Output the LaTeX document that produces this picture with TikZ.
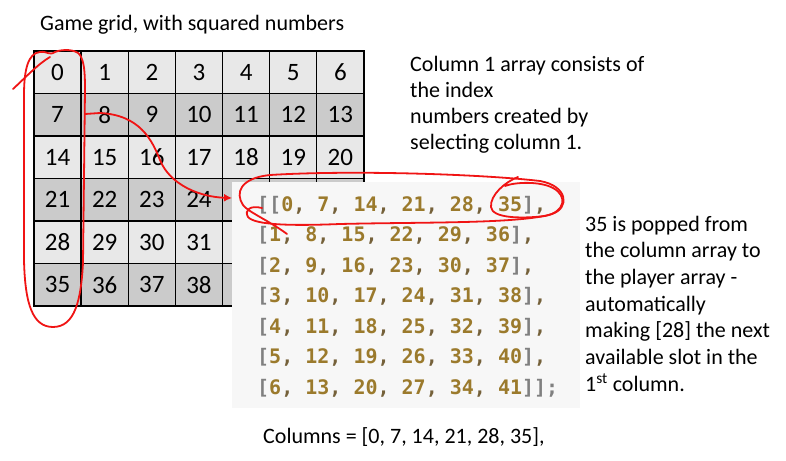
\documentclass[tikz,border=0pt]{standalone}
\usepackage{fontspec}
\setmainfont{Carlito}
\newfontfamily\codefont{DejaVu Sans Mono}
\usetikzlibrary{arrows.meta}
\definecolor{lightcell}{HTML}{E8E8E8}
\definecolor{darkcell}{HTML}{CBCBCB}
\definecolor{codebg}{HTML}{F7F7F7}
\definecolor{numbrown}{HTML}{9B7A2C}
\definecolor{commac}{HTML}{75613A}
\definecolor{brgray}{HTML}{808080}
\definecolor{annot}{HTML}{F01414}
\newcommand\Bk[1]{\textcolor{brgray}{#1}}
\newcommand\Nm[1]{\textcolor{numbrown}{#1}}
\newcommand\Cm{\textcolor{commac}{,}}
\newcommand\arow[6]{\Bk{[}\Nm{#1}\Cm\ \Nm{#2}\Cm\ \Nm{#3}\Cm\ \Nm{#4}\Cm\ \Nm{#5}\Cm\ \Nm{#6}\Bk{]}}
\tikzset{
  cell/.style={draw=black, line width=1.3pt, minimum width=47.14pt, minimum height=42.5pt, inner sep=0pt, font=\fontsize{25}{25}\selectfont},
  codeline/.style={anchor=base west, inner sep=0pt, font=\codefont\bfseries\fontsize{20}{20}\selectfont},
  plain/.style={anchor=base west, inner sep=0pt, font=\fontsize{22}{26}\selectfont},
  redpen/.style={draw=annot, line width=1.8pt, line cap=round, line join=round},
}
\begin{document}
\begin{tikzpicture}[x=1pt,y=-1pt]
\useasboundingbox (0,0) rectangle (786,460);
\fill[white] (0,0) rectangle (786,460);
% title
\node[plain] (title) at (40,31) {Game grid, with squared numbers};
% grid (cells hidden under the code box carry no text)
\foreach \r in {0,...,5} {
  \foreach \c in {0,...,6} {
    \pgfmathtruncatemacro\n{7*\r+\c}
    \pgfmathtruncatemacro\hide{and(\r>2,\c>3)}
    \ifodd\r \def\fc{darkcell}\else \def\fc{lightcell}\fi
    \ifnum\hide=1 \def\txt{}\else \let\txt\n\fi
    \node[cell, fill=\fc] (c\n) at (57.57+47.14*\c, 72.25+42.5*\r) {\txt};
  }
}
% code box
\node[fill=codebg, minimum width=348pt, minimum height=226pt, inner sep=0pt, anchor=north west] (code) at (232,182) {};
\node[codeline] (l1) at (257,211) {\Bk{[}\arow{0}{7}{14}{21}{28}{35}\Cm};
\node[codeline] (l2) at (257,241.5) {\arow{1}{8}{15}{22}{29}{36}\Cm};
\node[codeline] (l3) at (257,272) {\arow{2}{9}{16}{23}{30}{37}\Cm};
\node[codeline] (l4) at (257,302.5) {\arow{3}{10}{17}{24}{31}{38}\Cm};
\node[codeline] (l5) at (257,333) {\arow{4}{11}{18}{25}{32}{39}\Cm};
\node[codeline] (l6) at (257,363.5) {\arow{5}{12}{19}{26}{33}{40}\Cm};
\node[codeline] (l7) at (257,394) {\arow{6}{13}{20}{27}{34}{41}\Bk{];}};
% notes
\node[plain] (note1) at (410,71) {\vtop{\hbox{Column 1 array consists of}\hbox{the index}\hbox{numbers created by}\hbox{selecting column 1.}}};
\node[plain, font=\fontsize{22}{26.7}\selectfont] (note2) at (585,231) {\vtop{\hbox{35 is popped from}\hbox{the column array to}\hbox{the player array -}\hbox{automatically}\hbox{making [28] the next}\hbox{available slot in the}\hbox{1\textsuperscript{st} column.}}};
\node[plain] (bottom) at (263,443) {Columns = [0, 7, 14, 21, 28, 35],};
% red annotations: loop round column 0
\draw[redpen] (13,89) .. controls (26,77) and (38,64) .. (50,57);
\draw[redpen] (24,260) -- (24,95) .. controls (24,70) and (28,53) .. (40,52) .. controls (48,51) and (49,56) .. (55,52) .. controls (62,49) and (76,49) .. (80,55) .. controls (84,62) and (85,70) .. (85,90) -- (83,263) .. controls (81,300) and (75,327) .. (53,327) .. controls (33,327) and (25,305) .. (24,260);
% arrow from cell 8 to the code
\coordinate (arrstart) at (85,114);
\draw[redpen, -{Latex[length=8pt,width=8pt]}] (arrstart) -- (100,113) .. controls (140,115) and (152,140) .. (160,160) .. controls (170,185) and (200,197) .. (code.west |- 0,198);
% ellipse round first code line
\draw[redpen] (287,234) .. controls (268,220) and (248,212) .. (243,205) .. controls (235,193) and (240,178) .. (270,175) .. controls (350,170) and (480,174) .. (540,181) .. controls (568,186) and (570,208) .. (552,214) .. controls (520,224) and (420,222) .. (340,224) .. controls (290,226) and (255,225) .. (248,217) .. controls (244,210) and (250,205) .. (262,208);
% small ellipse round 35
\draw[redpen] (518,177) .. controls (505,182) and (490,195) .. (491,207) .. controls (492,218) and (520,219) .. (545,216) .. controls (565,212) and (568,196) .. (553,188) .. controls (540,181) and (515,182) .. (505,186);
\end{tikzpicture}
\end{document}
